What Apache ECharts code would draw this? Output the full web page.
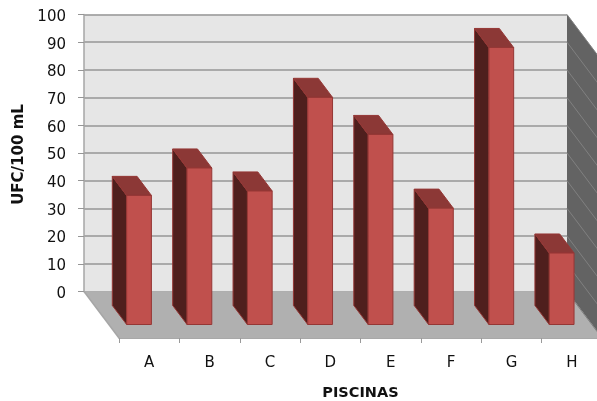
<!DOCTYPE html>
<html><head><meta charset="utf-8">
<style>html,body{margin:0;padding:0;background:#fff}#c{width:597px;height:401px}</style>
<script src="https://cdn.jsdelivr.net/npm/echarts@6/dist/echarts.min.js"></script>
</head><body><div id="c"></div>
<script>
const categories = ['A','B','C','D','E','F','G','H'];
const values = [46.6,56.5,48.2,82,68.6,42,100,25.8];
const yTicks = [0,10,20,30,40,50,60,70,80,90,100];
const DX = 35, DY = 46.5, D0 = 0.30, D1 = 0.71, BARW = 0.41;
const FONT = '"DejaVu Sans"';
const chart = echarts.init(document.getElementById('c'), null, {renderer:'canvas'});
const poly = (pts, fill, stroke, lw) => ({type:'polygon', shape:{points:pts}, style:{fill, stroke:stroke||fill, lineWidth:lw===undefined?1:lw}});
const line = (a, b, stroke, lw) => ({type:'line', shape:{x1:a[0],y1:a[1],x2:b[0],y2:b[1]}, style:{stroke, lineWidth:lw}});

function shell(params, api){
  const x0 = params.coordSys.x, x1 = x0 + params.coordSys.width;
  const yb = api.coord([0,0])[1], yt = api.coord([0,100])[1];
  const kids = [
    poly([[x0,yb],[x1,yb],[x1+DX,yb+DY],[x0+DX,yb+DY]], '#b0b0b0', '#b0b0b0', 0),
    poly([[x1,yt],[x1+DX,yt+DY],[x1+DX,yb+DY],[x1,yb]], '#636363', '#636363', 0),
    line([x0,yb],[x0+DX,yb+DY], '#a6a6a6', 1.5),
    line([x1,yb],[x1+DX,yb+DY], '#a0a0a0', 1)
  ];
  yTicks.forEach(t => {
    const y = api.coord([0,t])[1];
    kids.push(line([x1,y],[x1+DX,y+DY], '#808080', 1));
  });
  return {type:'group', children:kids};
}
function bar3d(params, api){
  const c = api.coord([api.value(0), 0]);
  const top = api.coord([api.value(0), api.value(1)])[1];
  const w = api.size([1,0])[0] * BARW;
  const xl = c[0] - w/2, xr = c[0] + w/2, yb = c[1];
  const fx = DX*D1, fy = DY*D1, bx = DX*D0, by = DY*D0;
  const edge = '#953735';
  return {type:'group', children:[
    poly([[xl+bx,yb+by],[xl+fx,yb+fy],[xl+fx,top+fy],[xl+bx,top+by]], '#4f1f1d', edge),
    poly([[xl+bx,top+by],[xr+bx,top+by],[xr+fx,top+fy],[xl+fx,top+fy]], '#8c3836', edge),
    {type:'rect', shape:{x:xl+fx,y:top+fy,width:w,height:yb-top}, style:{fill:'#c0504d',stroke:edge,lineWidth:1}}
  ]};
}
chart.setOption({
  animation:false,
  backgroundColor:'#fff',
  grid:[
    {left:84, top:14.5, width:483, height:277, show:true, backgroundColor:'#e6e6e6', borderWidth:0, outerBoundsMode:'none'},
    {left:119, top:291.5, width:483, height:46.5, show:false, outerBoundsMode:'none'}
  ],
  xAxis:[
    {type:'category', gridIndex:0, data:categories, show:false},
    {type:'category', gridIndex:1, data:categories, position:'bottom',
     axisLine:{show:true,lineStyle:{color:'#8c8c8c',width:1.5}},
     axisTick:{show:true,alignWithLabel:false,length:5,lineStyle:{color:'#9a9a9a',width:1}},
     axisLabel:{color:'#111',fontFamily:FONT,fontSize:15,margin:18,interval:0},
     name:'PISCINAS', nameLocation:'middle', nameGap:48,
     nameTextStyle:{color:'#111',fontFamily:FONT,fontSize:14.5,fontWeight:'bold'}}
  ],
  yAxis:[
    {type:'value', gridIndex:0, min:0, max:100, interval:10,
     axisLine:{show:true,lineStyle:{color:'#a6a6a6',width:1.5}},
     axisTick:{show:true,length:6,lineStyle:{color:'#969696',width:1}},
     splitLine:{show:true,lineStyle:{color:'#969696',width:1.5}},
     axisLabel:{color:'#111',fontFamily:FONT,fontSize:15,margin:18,verticalAlign:'top',lineHeight:5},
     name:'UFC/100 mL', nameLocation:'middle', nameGap:57, nameRotate:90,
     nameTextStyle:{color:'#111',fontFamily:FONT,fontSize:15,fontWeight:'bold',padding:[0,3,0,0]}},
    {type:'value', gridIndex:1, show:false, min:0, max:1}
  ],
  series:[
    {type:'custom', xAxisIndex:0, yAxisIndex:0, clip:false, z:3, silent:true, renderItem:shell, data:[[0,0]]},
    {type:'custom', xAxisIndex:0, yAxisIndex:0, clip:false, z:5, silent:true, renderItem:bar3d,
     encode:{x:0,y:1}, data:categories.map((c,i)=>[i,values[i]])}
  ]
});
</script></body></html>
